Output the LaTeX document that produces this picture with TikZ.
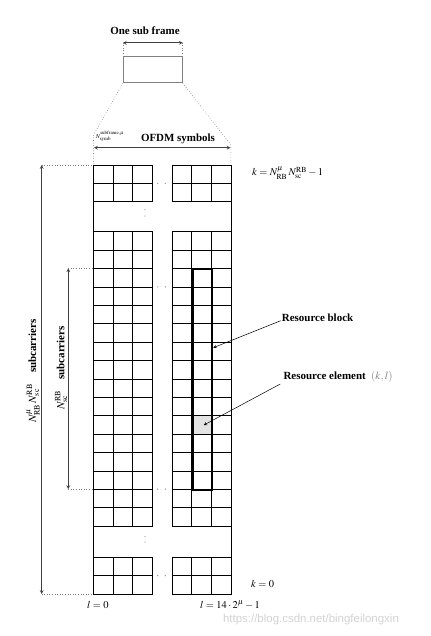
\documentclass[tikz,border=0pt]{standalone}
\usepackage{mathptmx}
\usepackage[no-math]{fontspec}
\setmainfont{Liberation Serif}
\newfontfamily\webfont{Liberation Sans}
\usetikzlibrary{arrows,positioning,calc}

\begin{document}
\begin{tikzpicture}[x=1bp, y=-1bp, >=stealth]
        \tikzset{
            cellgrid/.style={draw=black, line width=0.7bp},
            heading/.style={font=\fontsize{11}{13}\selectfont\bfseries, inner sep=0pt},
            mathlbl/.style={font=\fontsize{10.5}{12}\selectfont, inner sep=0pt, anchor=west},
            guide/.style={draw=gray, dotted, line width=0.6bp},
            span/.style={draw=black!75, <->, line width=0.7bp},
            pointer/.style={draw, ->, line width=0.5bp},
            dot/.style={fill=gray!80}
        }
        \useasboundingbox (0,0) rectangle (430,636);

        % Sub frame on top
        \node[heading] (sublabel) at (145,31) {One sub frame};
        \node[draw=gray, line width=0.9bp, minimum width=59bp, minimum height=26bp, inner sep=0pt] (subframe) at (152.8,69.7) {};
        \coordinate (subL) at ($(subframe.north west)+(0,-13.4)$);
        \coordinate (subR) at ($(subframe.north east)+(0,-13.4)$);
        \draw [span] (subL) -- (subR);
        \draw [guide] (subframe.north west) -- (subL);
        \draw [guide] (subframe.north east) -- (subR);

        % Grid corners
        \coordinate (gridNW) at (93.5,165);
        \coordinate (gridNE) at (230.9,165);
        \coordinate (gridSW) at (93.5,594);
        \coordinate (gridSE) at (230.9,594);
        \coordinate (bendL) at (93.5,135);
        \coordinate (bendR) at (230.9,145);
        \draw [guide] (subframe.south west) -- (bendL) -- (gridNW);
        \draw [guide] (subframe.south east) -- (bendR) -- (gridNE);

        % OFDM symbols
        \coordinate (ofdmL) at (94,147.7);
        \coordinate (ofdmR) at (230.5,147.7);
        \draw [span] (ofdmL) -- (ofdmR);
        \node[heading] (ofdmlabel) at (178,138.5) {OFDM symbols};
        \node[font=\fontsize{6}{7}\selectfont, inner sep=0pt] (nsymb) at (110,136.5) {$N^{\mathrm{subframe},\mu}_{\mathrm{symb}}$};

        % Resource element (shaded cell)
        \node[fill=gray!22, minimum width=19.6bp, minimum height=18.4bp, inner sep=0pt, anchor=north west] (re) at (191.7,415.7) {};

        % Grid: two column groups, three row blocks
        \foreach \gx in {93.5,172.1} {
            \foreach \by/\nr in {165/2, 231.7/16, 557.2/2} {
                \foreach \c in {0,1,2} {
                    \foreach \r in {1,...,\nr} {
                        \draw [cellgrid] ({\gx+\c*19.6},{\by+(\r-1)*18.4}) rectangle +(19.6,18.4);
                    }
                }
            }
        }
        \draw [cellgrid] (gridNW) -- (gridSW);
        \draw [cellgrid] (gridNE) -- (gridSE);

        % Dots between groups and blocks
        \foreach \y in {183.4,286.9,489.1,575.6} {
            \fill [dot] (157.8,\y) circle (0.7);
            \fill [dot] (165.2,\y) circle (0.7);
        }
        \foreach \y in {209.5,216,536.5,542} {
            \fill [dot] (145,\y) circle (0.7);
        }

        % Resource block
        \node[draw, line width=2bp, minimum width=19.6bp, minimum height=220.8bp, inner sep=0pt, anchor=north west] (rb) at (191.7,268.3) {};

        % Subcarrier spans on the left
        \coordinate (allTop) at (41.7,165);
        \coordinate (allBot) at (41.7,594);
        \coordinate (rbTop) at (68.3,268.3);
        \coordinate (rbBot) at (68.3,489.1);
        \draw [span] (allTop) -- (allBot);
        \draw [span] (rbTop) -- (rbBot);
        \draw [guide] (allTop) -- (gridNW);
        \draw [guide] (allBot) -- (gridSW);
        \draw [guide] (rbTop) -- (93.5,268.3);
        \draw [guide] (rbBot) -- (93.5,489.1);
        \node[heading, rotate=90] (alllabel) at (33,371) {$N^{\mu}_{\mathrm{RB}}\,N^{\mathrm{RB}}_{\mathrm{sc}}$\quad subcarriers};
        \node[heading, rotate=90] (rblabelsc) at (61,368) {$N^{\mathrm{RB}}_{\mathrm{sc}}$\quad subcarriers};

        % Index labels
        \node[mathlbl] (ktop) at (252,173) {$k = N^{\mu}_{\mathrm{RB}}\,N^{\mathrm{RB}}_{\mathrm{sc}} -1$};
        \node[mathlbl] (kzero) at (251,584) {$k = 0$};
        \node[mathlbl] (lzero) at (87,605) {$l = 0$};
        \node[mathlbl] (lmax) at (200,605) {$l = 14\cdot 2^{\mu} -1$};

        % Pointers
        \node[heading, anchor=west] (rbname) at (281.7,317.7) {Resource block};
        \node[heading, anchor=west] (rename) at (283.3,377) {Resource element\ \ \textcolor{gray}{\mdseries$(k,l)$}};
        \coordinate (rbtip) at ($(rb.east)+(0,-32)$);
        \draw [pointer] ($(rbname.west)+(-1,3)$) -- (rbtip);
        \draw [pointer] ($(rename.west)+(-3,7)$) -- ($(re.center)+(2,0)$);

        % Watermark
        \node[font=\webfont\fontsize{11.5}{13}\selectfont, text=gray!35, inner sep=0pt] (mark) at (311,620) {https://blog.csdn.net/bingfeilongxin};

    \end{tikzpicture}
\end{document}
